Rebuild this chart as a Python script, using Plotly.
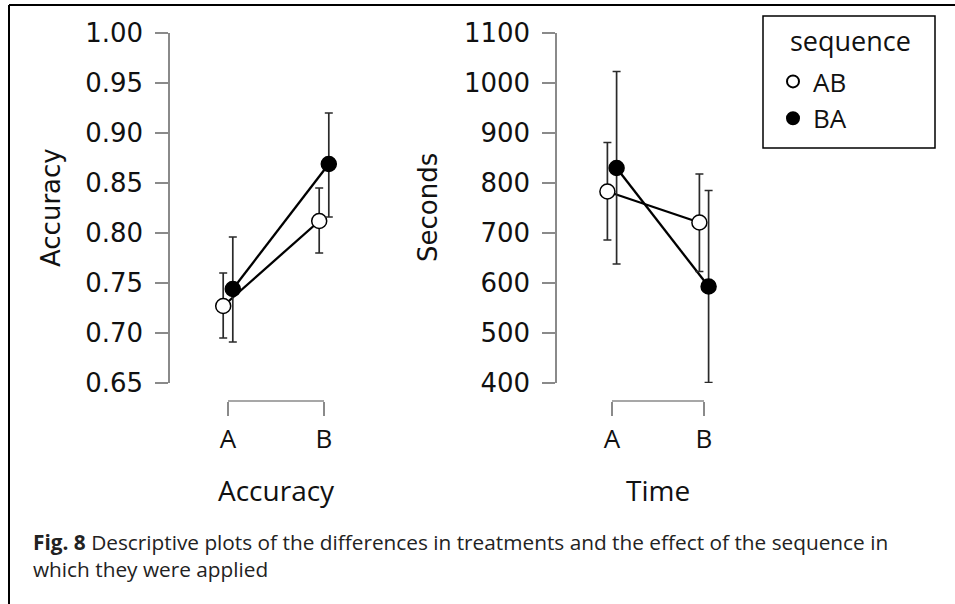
import numpy as np
import plotly.graph_objects as go

W, H = 955, 604

# ---------------- data ----------------
categories = ["A", "B"]
sequences = ["AB", "BA"]

acc_mean = {"AB": [0.727, 0.812], "BA": [0.744, 0.869]}
acc_upper = {"AB": [0.760, 0.845], "BA": [0.796, 0.920]}
acc_lower = {"AB": [0.695, 0.780], "BA": [0.691, 0.816]}

time_mean = {"AB": [783, 721], "BA": [830, 593]}
time_upper = {"AB": [881, 818], "BA": [1023, 785]}
time_lower = {"AB": [686, 623], "BA": [638, 401]}

acc_ticks = [0.65, 0.70, 0.75, 0.80, 0.85, 0.90, 0.95, 1.00]
acc_ticklabels = ["0.65", "0.70", "0.75", "0.80", "0.85", "0.90", "0.95", "1.00"]
time_ticks = [400, 500, 600, 700, 800, 900, 1000, 1100]

caption = ("<b>Fig. 8</b> Descriptive plots of the differences in treatments and the effect of the sequence in"
           "<br>which they were applied")

# ---------------- helpers ----------------
def fx(px):
    return px / W

def fy(py):
    return 1 - py / H

dodge = {"AB": -0.05, "BA": 0.05}
fill = {"AB": "white", "BA": "black"}

NUM_FONT = "DejaVu Sans"
TXT_FONT = "Open Sans"
AXCOL = "#8a8a8a"
ERRCOL = "#2a2a2a"

fig = go.Figure()

panels = [
    ("x", "y", acc_mean, acc_upper, acc_lower, True),
    ("x2", "y2", time_mean, time_upper, time_lower, False),
]

for xa, ya, mean, up, lo, show in panels:
    xpos = {s: np.arange(len(categories)) + dodge[s] for s in sequences}
    for s in sequences:
        fig.add_trace(go.Scatter(
            x=xpos[s], y=mean[s], mode="lines", xaxis=xa, yaxis=ya,
            line=dict(color="black", width=2.3), showlegend=False, hoverinfo="skip"))
    for s in sequences:
        m = np.array(mean[s], dtype=float)
        fig.add_trace(go.Scatter(
            x=xpos[s], y=mean[s], mode="markers", xaxis=xa, yaxis=ya, name=s,
            marker=dict(size=15, color=fill[s], line=dict(color="black", width=1.5)),
            error_y=dict(type="data", symmetric=False,
                         array=np.array(up[s]) - m, arrayminus=m - np.array(lo[s]),
                         color=ERRCOL, thickness=1.7, width=4),
            showlegend=show))

# pixel geometry
Y_TOP, Y_BOT = 33, 383
L_AX, L_A, L_B = 170, 228, 324
R_AX, R_A, R_B = 557, 612, 704
BRACKET_Y = 401

def xrange(left, right, a, b):
    u = b - a
    return [(left - a) / u, (right - a) / u]

common_y = dict(showgrid=False, zeroline=False, showline=True, linecolor=AXCOL, linewidth=1.5,
                ticks="outside", ticklen=13, tickcolor=AXCOL, tickwidth=1.5,
                tickfont=dict(family=NUM_FONT, size=26, color="#111"), automargin=False,
                ticklabelstandoff=7, domain=[fy(Y_BOT), fy(Y_TOP)])
common_x = dict(showgrid=False, zeroline=False, showline=False, anchor="free", automargin=False,
                position=fy(BRACKET_Y), ticks="outside", ticklen=14, tickcolor=AXCOL, tickwidth=1.5,
                tickmode="array", tickvals=list(range(len(categories))), ticktext=categories,
                tickfont=dict(family=TXT_FONT, size=26, color="#111"), ticklabelstandoff=1)

fig.update_layout(
    width=W, height=H, margin=dict(l=0, r=0, t=0, b=0, pad=0, autoexpand=False),
    paper_bgcolor="white", plot_bgcolor="rgba(0,0,0,0)",
    xaxis=dict(common_x, domain=[fx(L_AX), fx(395)], range=xrange(L_AX, 395, L_A, L_B)),
    yaxis=dict(common_y, anchor="x", range=[0.65, 1.00], tickvals=acc_ticks, ticktext=acc_ticklabels),
    xaxis2=dict(common_x, domain=[fx(R_AX), fx(760)], range=xrange(R_AX, 760, R_A, R_B)),
    yaxis2=dict(common_y, anchor="x2", range=[400, 1100], tickvals=time_ticks),
    legend=dict(x=fx(773), y=fy(58), xanchor="left", yanchor="top",
                bgcolor="rgba(0,0,0,0)", borderwidth=0, tracegroupgap=0,
                font=dict(family=TXT_FONT, size=26, color="#111"),
                itemsizing="constant"),
    showlegend=True,
)

shapes = []
for xa in ["x", "x2"]:
    shapes.append(dict(type="line", xref=xa, yref="paper", x0=0, x1=len(categories) - 1,
                       y0=fy(BRACKET_Y), y1=fy(BRACKET_Y), line=dict(color=AXCOL, width=1.5)))
# figure frame (left and top)
shapes.append(dict(type="line", xref="paper", yref="paper", x0=fx(9), x1=fx(9), y0=0, y1=fy(5),
                   line=dict(color="black", width=2)))
shapes.append(dict(type="line", xref="paper", yref="paper", x0=fx(9), x1=1, y0=fy(5), y1=fy(5),
                   line=dict(color="black", width=2)))
# legend box
shapes.append(dict(type="rect", xref="paper", yref="paper", x0=fx(763), x1=fx(935), y0=fy(148), y1=fy(16),
                   line=dict(color="black", width=1.5), fillcolor="rgba(0,0,0,0)", layer="below"))
fig.update_layout(shapes=shapes)

annotations = [
    dict(text="Accuracy", x=fx(51), y=fy((Y_TOP + Y_BOT) / 2), textangle=-90,
         font=dict(family=NUM_FONT, size=26, color="#111")),
    dict(text="Seconds", x=fx(428), y=fy((Y_TOP + Y_BOT) / 2), textangle=-90,
         font=dict(family=NUM_FONT, size=26, color="#111")),
    dict(text="Accuracy", x=fx((L_A + L_B) / 2), y=fy(490),
         font=dict(family=TXT_FONT, size=28, color="#111")),
    dict(text="Time", x=fx((R_A + R_B) / 2), y=fy(490),
         font=dict(family=TXT_FONT, size=28, color="#111")),
    dict(text="sequence", x=fx(788), y=fy(41), xanchor="left",
         font=dict(family=TXT_FONT, size=27, color="#111")),
    dict(text=caption, x=fx(31), y=fy(526), xanchor="left", yanchor="top", align="left",
         font=dict(family=TXT_FONT, size=20.8, color="#222")),
]
for a in annotations:
    a.setdefault("xref", "paper")
    a.setdefault("yref", "paper")
    a.setdefault("showarrow", False)
    a.setdefault("xanchor", "center")
    a.setdefault("yanchor", "middle")
fig.update_layout(annotations=annotations)

fig.write_html("out.html", config={"displayModeBar": False},
               post_script="document.body.style.margin='0';")
